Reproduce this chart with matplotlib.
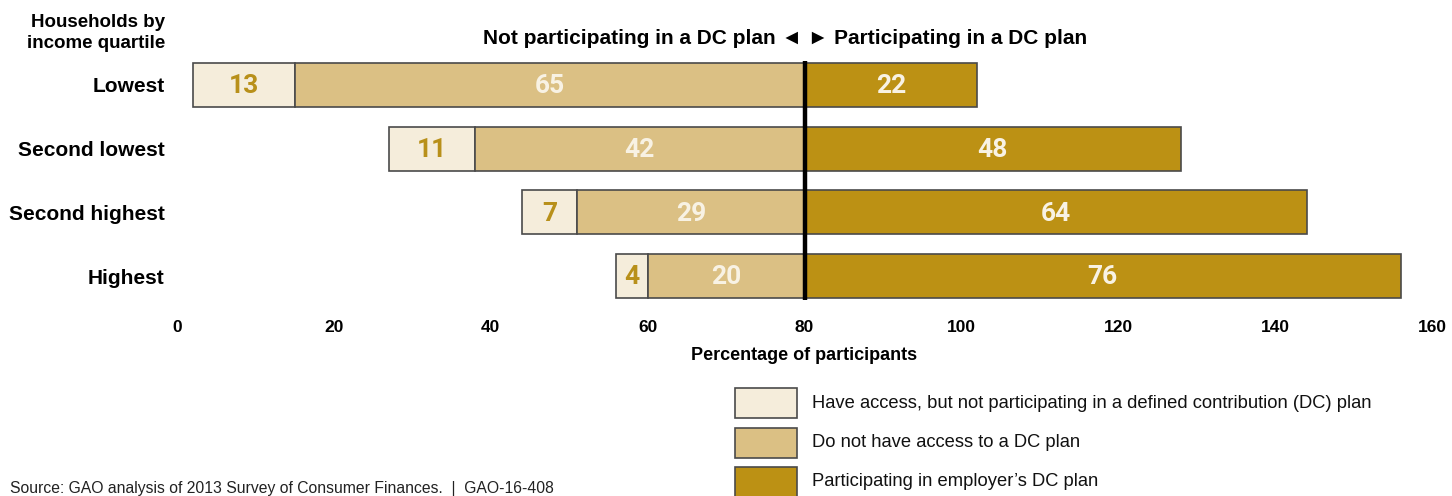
import matplotlib
matplotlib.use("Agg")
import matplotlib.pyplot as plt
from matplotlib.patches import Rectangle

W, H = 1452, 496
categories = ["Lowest", "Second lowest", "Second highest", "Highest"]
have_access_not_part = [13, 11, 7, 4]
no_access = [65, 42, 29, 20]
participating = [22, 48, 64, 76]
xticks = [0, 20, 40, 60, 80, 100, 120, 140, 160]
center = 80

c_light = "#F5EDDB"
c_mid = "#DBC084"
c_dark = "#BC9114"
edge = "#4a4a4a"
txt_gold = "#B8901A"
txt_cream = "#F8F2E4"

plt.rcParams['font.family'] = ['Liberation Sans', 'DejaVu Sans']

fig = plt.figure(figsize=(W / 100, H / 100), dpi=100)

def fx(px):
    return px / W

def fy(py):
    return 1 - py / H

ax = fig.add_axes([fx(177), fy(308), fx(1432) - fx(177), fy(53) - fy(308)])
ypos = list(range(len(categories)))
bh = 0.69

left_mid = [center - n for n in no_access]
left_light = [center - n - a for n, a in zip(no_access, have_access_not_part)]

ax.barh(ypos, have_access_not_part, left=left_light, height=bh, color=c_light, edgecolor=edge, linewidth=1.2)
ax.barh(ypos, no_access, left=left_mid, height=bh, color=c_mid, edgecolor=edge, linewidth=1.2)
ax.barh(ypos, participating, left=[center] * len(ypos), height=bh, color=c_dark, edgecolor=edge, linewidth=1.2)

ax.vlines(center, -bh / 2 - 0.03, len(ypos) - 1 + bh / 2 + 0.03, color="black", linewidth=3.2, zorder=5)

vfont = dict(family=['Roboto', 'DejaVu Sans'], fontweight='bold', fontsize=19, va='center', ha='center')
for i in ypos:
    ax.text(left_light[i] + have_access_not_part[i] / 2, i + 0.02, str(have_access_not_part[i]), color=txt_gold, **vfont)
    ax.text(left_mid[i] + no_access[i] / 2, i + 0.02, str(no_access[i]), color=txt_cream, **vfont)
    ax.text(center + participating[i] / 2, i + 0.02, str(participating[i]), color=txt_cream, **vfont)

ax.set_xlim(0, 160)
ax.set_ylim(len(ypos) - 0.5, -0.5)
ax.set_xticks(xticks)
ax.set_xticklabels([str(t) for t in xticks], fontsize=12.5, fontweight='bold')
ax.tick_params(axis='x', length=0, pad=9)
ax.set_yticks(ypos)
ax.set_yticklabels(categories, fontsize=15, fontweight='bold')
ax.tick_params(axis='y', length=0, pad=9)
for s in ax.spines.values():
    s.set_visible(False)
ax.set_xlabel("Percentage of participants", fontsize=13, fontweight='bold', labelpad=8)

fig.text(fx(165), fy(33), "Households by\nincome quartile", ha='right', va='center', fontsize=13.5,
         fontweight='bold', linespacing=1.32)
fig.text(fx(785), fy(38), "Not participating in a DC plan \u25c4 \u25ba Participating in a DC plan",
         ha='center', va='center', fontsize=15, fontweight='bold')

legend_labels = ["Have access, but not participating in a defined contribution (DC) plan",
                 "Do not have access to a DC plan",
                 "Participating in employer\u2019s DC plan"]
legend_colors = [c_light, c_mid, c_dark]
for k, (lab, col) in enumerate(zip(legend_labels, legend_colors)):
    top = 388 + k * 39.5
    fig.patches.append(Rectangle((fx(735), fy(top + 30)), fx(797) - fx(735), fy(top) - fy(top + 30),
                                 transform=fig.transFigure, facecolor=col, edgecolor=edge, linewidth=1.2))
    fig.text(fx(812), fy(top + 15), lab, ha='left', va='center', fontsize=13.2, color="#111111")

fig.text(fx(10), fy(489), "Source: GAO analysis of 2013 Survey of Consumer Finances.  |  GAO-16-408",
         ha='left', va='center', fontsize=11.3, color="#222222")

fig.savefig("out.png", dpi=100)
